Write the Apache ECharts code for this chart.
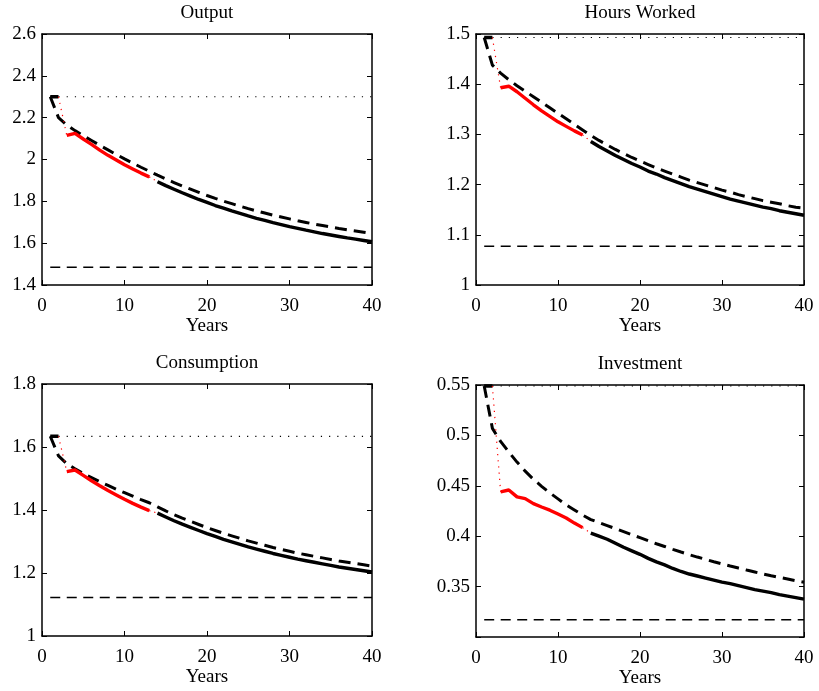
<!DOCTYPE html>
<html>
<head>
<meta charset="utf-8">
<script src="https://cdn.jsdelivr.net/npm/echarts@6/dist/echarts.min.js"></script>
<style>
html,body{margin:0;padding:0;background:#fff;}
#chart{width:819px;height:691px;}
</style>
</head>
<body>
<div id="chart"></div>
<script>
// ---------- DATA ----------
const xTicks = [0, 10, 20, 30, 40];
const xLabel = 'Years';
const titles = ['Output', 'Hours Worked', 'Consumption', 'Investment'];

// Output
const outputInitSS = 2.3;
const outputNewSS = 1.485;
const outputRed = [2.115, 2.125, 2.098, 2.072, 2.045, 2.020, 1.998, 1.975, 1.955, 1.935, 1.917]; // years 3..13
const outputBlack = [1.894, 1.875, 1.858, 1.841, 1.825, 1.809, 1.795, 1.780, 1.767, 1.754, 1.742, 1.730, 1.719, 1.709,
  1.698, 1.689, 1.679, 1.671, 1.662, 1.654, 1.646, 1.639, 1.632, 1.625, 1.619, 1.613, 1.607]; // years 14..40
const outputDashed = [2.300, 2.200, 2.165, 2.138, 2.114, 2.091, 2.068, 2.046, 2.024, 2.003, 1.983, 1.963, 1.944,
  1.925, 1.907, 1.890, 1.873, 1.858, 1.843, 1.828, 1.814, 1.801, 1.789, 1.777, 1.765, 1.754, 1.744, 1.734, 1.725,
  1.716, 1.707, 1.699, 1.691, 1.684, 1.677, 1.670, 1.664, 1.658, 1.652, 1.646]; // years 1..40

// Hours Worked
const hoursInitSS = 1.493;
const hoursNewSS = 1.077;
const hoursRed = [1.393, 1.396, 1.385, 1.372, 1.359, 1.347, 1.336, 1.325, 1.316, 1.307, 1.299];
const hoursBlack = [1.286, 1.276, 1.267, 1.258, 1.250, 1.242, 1.235, 1.227, 1.221, 1.214, 1.208, 1.202, 1.196, 1.191,
  1.186, 1.181, 1.176, 1.171, 1.167, 1.163, 1.159, 1.155, 1.152, 1.148, 1.145, 1.142, 1.139];
const hoursDashed = [1.493, 1.438, 1.422, 1.409, 1.397, 1.386, 1.375, 1.364, 1.353, 1.342, 1.331, 1.320, 1.309,
  1.298, 1.288, 1.279, 1.270, 1.262, 1.254, 1.247, 1.240, 1.233, 1.227, 1.221, 1.215, 1.209, 1.204, 1.199, 1.194,
  1.189, 1.185, 1.180, 1.176, 1.172, 1.168, 1.165, 1.162, 1.158, 1.155, 1.153];

// Consumption
const consInitSS = 1.634;
const consNewSS = 1.122;
const consRed = [1.522, 1.527, 1.510, 1.493, 1.477, 1.462, 1.448, 1.434, 1.421, 1.409, 1.398];
const consBlack = [1.390, 1.378, 1.366, 1.355, 1.345, 1.335, 1.325, 1.316, 1.307, 1.299, 1.291, 1.283, 1.276, 1.269,
  1.262, 1.256, 1.250, 1.244, 1.239, 1.234, 1.229, 1.224, 1.219, 1.215, 1.211, 1.207, 1.203];
const consDashed = [1.634, 1.572, 1.547, 1.531, 1.516, 1.503, 1.490, 1.478, 1.466, 1.455, 1.444, 1.433, 1.423,
  1.410, 1.397, 1.385, 1.374, 1.364, 1.354, 1.344, 1.335, 1.326, 1.318, 1.310, 1.302, 1.295, 1.288, 1.281, 1.275,
  1.269, 1.263, 1.258, 1.253, 1.248, 1.243, 1.238, 1.234, 1.230, 1.226, 1.222];

// Investment
const invInitSS = 0.549;
const invNewSS = 0.317;
const invRed = [0.444, 0.4458, 0.439, 0.4373, 0.4323, 0.429, 0.4258, 0.422, 0.418, 0.413, 0.4085];
const invBlack = [0.403, 0.400, 0.397, 0.393, 0.389, 0.3855, 0.382, 0.378, 0.3745, 0.3715, 0.368, 0.365, 0.3625,
  0.3605, 0.3585, 0.3565, 0.3545, 0.353, 0.351, 0.349, 0.347, 0.3455, 0.344, 0.342, 0.3405, 0.339, 0.3375];
const invDashed = [0.549, 0.507, 0.494, 0.4835, 0.4735, 0.4645, 0.4565, 0.4495, 0.443, 0.437, 0.431, 0.426, 0.421,
  0.4165, 0.4135, 0.4105, 0.4075, 0.4045, 0.4015, 0.3985, 0.3955, 0.3925, 0.3898, 0.3870, 0.3843, 0.3817, 0.3793,
  0.3770, 0.3747, 0.3725, 0.3704, 0.3684, 0.3664, 0.3645, 0.3626, 0.3608, 0.3591, 0.3575, 0.3559, 0.3544];

// axis ranges
const yRanges = [
  {min: 1.4, max: 2.6, interval: 0.2},
  {min: 1.0, max: 1.5, interval: 0.1},
  {min: 1.0, max: 1.8, interval: 0.2},
  {min: 0.3, max: 0.55, interval: 0.05}
];
const hideMinLabel = [false, false, false, true];

const firstYear = 1, redStart = 3, blackStart = 14, lastYear = 40;

const panels = [
  {init: outputInitSS, ss: outputNewSS, red: outputRed, black: outputBlack, dashed: outputDashed},
  {init: hoursInitSS, ss: hoursNewSS, red: hoursRed, black: hoursBlack, dashed: hoursDashed},
  {init: consInitSS, ss: consNewSS, red: consRed, black: consBlack, dashed: consDashed},
  {init: invInitSS, ss: invNewSS, red: invRed, black: invBlack, dashed: invDashed}
];

// ---------- LAYOUT ----------
const grids = [
  {left: 42, top: 34, width: 330, height: 251},
  {left: 476, top: 34, width: 328, height: 251},
  {left: 42, top: 384, width: 330, height: 252},
  {left: 476, top: 385, width: 328, height: 252}
];
const FONT = 'Liberation Serif';
const FS = 19;

const toPts = (arr, start) => arr.map((v, i) => [start + i, v]);

const option = {
  animation: false,
  backgroundColor: '#fff',
  grid: grids.map(g => Object.assign({containLabel: false}, g)),
  xAxis: [], yAxis: [], series: [],
  graphic: []
};

const axisLineStyle = () => ({show: true, onZero: false, lineStyle: {color: '#000', width: 1.5}});
const tickStyle = () => ({show: true, inside: true, length: 5, lineStyle: {color: '#000', width: 1}});

panels.forEach((p, i) => {
  const g = grids[i];
  option.xAxis.push({
    gridIndex: i, type: 'value', min: xTicks[0], max: xTicks[xTicks.length - 1], interval: 10,
    position: 'bottom', axisLine: axisLineStyle(), axisTick: tickStyle(), splitLine: {show: false},
    axisLabel: {color: '#000', fontFamily: FONT, fontSize: FS, margin: 12},
    name: xLabel, nameLocation: 'middle', nameGap: 32,
    nameTextStyle: {color: '#000', fontFamily: FONT, fontSize: FS}
  });
  option.xAxis.push({
    gridIndex: i, type: 'value', min: xTicks[0], max: xTicks[xTicks.length - 1], interval: 10,
    position: 'top', axisLine: axisLineStyle(), axisTick: tickStyle(), splitLine: {show: false},
    axisLabel: {show: false}
  });
  const yr = yRanges[i];
  option.yAxis.push({
    gridIndex: i, type: 'value', min: yr.min, max: yr.max, interval: yr.interval,
    position: 'left', axisLine: axisLineStyle(), axisTick: tickStyle(), splitLine: {show: false},
    axisLabel: {color: '#000', fontFamily: FONT, fontSize: FS, margin: 6,
      formatter: v => (hideMinLabel[i] && Math.abs(v - yr.min) < 1e-9) ? '' : String(parseFloat(v.toFixed(4)))}
  });
  option.yAxis.push({
    gridIndex: i, type: 'value', min: yr.min, max: yr.max, interval: yr.interval,
    position: 'right', axisLine: axisLineStyle(), axisTick: tickStyle(), splitLine: {show: false},
    axisLabel: {show: false}
  });
  const xi = 2 * i, yi = 2 * i;
  const base = {type: 'line', xAxisIndex: xi, yAxisIndex: yi, showSymbol: false, symbol: 'none', silent: true, clip: true};
  const redEnd = redStart + p.red.length - 1;
  // new steady-state dashed horizontal
  option.series.push(Object.assign({}, base, {
    data: [[firstYear, p.ss], [lastYear, p.ss]],
    lineStyle: {color: '#000', width: 1.5, type: [10, 6.5]}
  }));
  // initial steady-state dotted horizontal
  option.series.push(Object.assign({}, base, {
    data: [[firstYear, p.init], [lastYear, p.init]],
    lineStyle: {color: '#000', width: 1.2, type: [1.2, 7]}
  }));
  // dashed path
  option.series.push(Object.assign({}, base, {
    data: toPts(p.dashed, firstYear),
    lineStyle: {color: '#000', width: 3, type: [12, 7]}
  }));
  // pre-period solid
  option.series.push(Object.assign({}, base, {
    data: [[firstYear, p.init], [redStart - 1, p.init]],
    lineStyle: {color: '#000', width: 3.4}
  }));
  // red dotted connectors
  option.series.push(Object.assign({}, base, {
    data: [[redStart - 1, p.init], [redStart, p.red[0]]],
    lineStyle: {color: '#ff0000', width: 1.2, type: [1.2, 5]}
  }));
  option.series.push(Object.assign({}, base, {
    data: [[redEnd, p.red[p.red.length - 1]], [blackStart, p.black[0]]],
    lineStyle: {color: '#ff0000', width: 1.2, type: [1.2, 4]}
  }));
  // red solid
  option.series.push(Object.assign({}, base, {
    data: toPts(p.red, redStart),
    lineStyle: {color: '#ff0000', width: 3.4}
  }));
  // black solid
  option.series.push(Object.assign({}, base, {
    data: toPts(p.black, blackStart),
    lineStyle: {color: '#000', width: 3.4}
  }));
  // title
  option.graphic.push({
    type: 'text', x: g.left + g.width / 2, y: g.top - 21,
    style: {text: titles[i], fill: '#000', font: FS + 'px "' + FONT + '"', textAlign: 'center', textVerticalAlign: 'middle'}
  });
});

const chart = echarts.init(document.getElementById('chart'), null, {renderer: 'canvas'});
chart.setOption(option);
</script>
</body>
</html>
